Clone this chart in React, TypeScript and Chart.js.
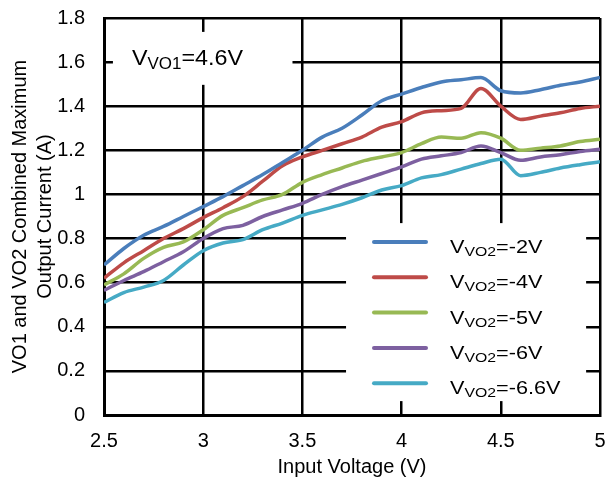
import React, { useEffect, useRef } from "react";
import { Chart, registerables } from "chart.js";

Chart.register(...registerables);

const xValues = [2.5, 2.6, 2.7, 2.8, 2.9, 3.0, 3.1, 3.2, 3.3, 3.4, 3.5, 3.6, 3.7, 3.8, 3.9, 4.0, 4.1, 4.2, 4.3, 4.4, 4.5, 4.6, 4.7, 4.8, 4.9, 5.0];

const vo2m2 = [0.68, 0.755, 0.815, 0.855, 0.9, 0.945, 0.99, 1.04, 1.09, 1.145, 1.2, 1.26, 1.3, 1.36, 1.425, 1.455, 1.485, 1.51, 1.52, 1.53, 1.47, 1.46, 1.475, 1.495, 1.51, 1.53];
const vo2m4 = [0.62, 0.69, 0.745, 0.8, 0.845, 0.895, 0.94, 0.99, 1.06, 1.13, 1.17, 1.2, 1.23, 1.26, 1.305, 1.33, 1.37, 1.38, 1.39, 1.48, 1.4, 1.34, 1.355, 1.37, 1.39, 1.4];
const vo2m5 = [0.59, 0.64, 0.71, 0.76, 0.785, 0.84, 0.905, 0.94, 0.975, 1.0, 1.055, 1.09, 1.12, 1.15, 1.17, 1.19, 1.23, 1.26, 1.255, 1.28, 1.255, 1.2, 1.21, 1.22, 1.24, 1.25];
const vo2m6 = [0.565, 0.61, 0.65, 0.695, 0.74, 0.8, 0.845, 0.86, 0.9, 0.93, 0.96, 1.0, 1.035, 1.065, 1.095, 1.125, 1.16, 1.175, 1.19, 1.22, 1.19, 1.155, 1.17, 1.18, 1.195, 1.205];
const vo2m66 = [0.51, 0.555, 0.58, 0.61, 0.68, 0.745, 0.78, 0.795, 0.84, 0.87, 0.905, 0.93, 0.955, 0.985, 1.02, 1.04, 1.075, 1.09, 1.115, 1.14, 1.16, 1.085, 1.1, 1.12, 1.135, 1.148];

const legendLabels = ["=-2V", "=-4V", "=-5V", "=-6V", "=-6.6V"];
const colors = ["#4A7EBB", "#BE4B48", "#98B954", "#7D60A0", "#46AAC5"];
const seriesList = [vo2m2, vo2m4, vo2m5, vo2m6, vo2m66];

const FONT = "'Liberation Sans', Arial, sans-serif";

function drawSub(ctx: CanvasRenderingContext2D, x: number, y: number, main: string, sub: string, rest: string, size: number, subSize: number, subDrop: number, stretch: number) {
  ctx.save();
  ctx.translate(x, y);
  ctx.scale(stretch, 1);
  ctx.fillStyle = "#000";
  ctx.textAlign = "left";
  ctx.textBaseline = "alphabetic";
  ctx.font = `${size}px ${FONT}`;
  ctx.fillText(main, 0, 0);
  let cx = ctx.measureText(main).width;
  ctx.font = `${subSize}px ${FONT}`;
  ctx.fillText(sub, cx, subDrop);
  cx += ctx.measureText(sub).width;
  ctx.font = `${size}px ${FONT}`;
  ctx.fillText(rest, cx, 0);
  ctx.restore();
}

const overlayPlugin = {
  id: "overlayPlugin",
  beforeDatasetsDraw(chart: any) {
    const { ctx, scales } = chart;
    const xs = scales.x;
    const ys = scales.y;
    ctx.save();
    ctx.fillStyle = "#fff";
    const ax1 = xs.getPixelForValue(2.545), ax2 = xs.getPixelForValue(3.45);
    const ay1 = ys.getPixelForValue(1.737), ay2 = ys.getPixelForValue(1.497);
    ctx.fillRect(ax1, ay1, ax2 - ax1, ay2 - ay1);
    const lx1 = xs.getPixelForValue(3.72), lx2 = xs.getPixelForValue(4.93);
    const ly1 = ys.getPixelForValue(0.87), ly2 = ys.getPixelForValue(0.063);
    ctx.fillRect(lx1, ly1, lx2 - lx1, ly2 - ly1);
    ctx.restore();
  },
  afterDatasetsDraw(chart: any) {
    const { ctx, chartArea } = chart;
    ctx.save();
    drawSub(ctx, chartArea.left + 28, chartArea.top + 47, "V", "VO1", "=4.6V", 22, 16, 4, 1.06);
    const lineX1 = chartArea.left + 270;
    const lineX2 = chartArea.left + 322;
    for (let i = 0; i < legendLabels.length; i++) {
      const y = chartArea.top + 224 + i * 35.3;
      ctx.strokeStyle = colors[i];
      ctx.lineWidth = 4;
      ctx.lineCap = "round";
      ctx.beginPath();
      ctx.moveTo(lineX1, y);
      ctx.lineTo(lineX2, y);
      ctx.stroke();
      drawSub(ctx, chartArea.left + 346, y + 11, "V", "VO2", legendLabels[i], 18.5, 13.5, 3, 1.17);
    }
    ctx.restore();
  },
};

export default function App() {
  const ref = useRef<HTMLCanvasElement | null>(null);
  useEffect(() => {
    if (!ref.current) return;
    const chart = new Chart(ref.current, {
      type: "line",
      data: {
        datasets: seriesList.map((s, i) => ({
          label: "VVO2" + legendLabels[i],
          data: s.map((v, j) => ({ x: xValues[j], y: v })),
          borderColor: colors[i],
          backgroundColor: colors[i],
          borderWidth: 3.5,
          pointRadius: 0,
          cubicInterpolationMode: "monotone" as const,
          fill: false,
        })),
      },
      options: {
        animation: false,
        responsive: false,
        maintainAspectRatio: false,
        layout: { padding: { left: 0, right: 5, top: 18, bottom: 0 } },
        plugins: { legend: { display: false }, tooltip: { enabled: false } },
        scales: {
          x: {
            type: "linear",
            min: 2.5,
            max: 5,
            afterFit: (s: any) => { s.height = 64; s.paddingLeft = 0; s.paddingRight = 0; },
            ticks: {
              stepSize: 0.5,
              padding: 14,
              color: "#000",
              font: { family: FONT, size: 20 },
              callback: (v: any) => String(Number(Number(v).toFixed(1))),
            },
            grid: { color: "#000", lineWidth: 2.5, drawTicks: false },
            border: { display: true, color: "#000", width: 3 },
            title: {
              display: true,
              text: "Input Voltage (V)",
              color: "#000",
              font: { family: FONT, size: 20, lineHeight: 1.2 },
              padding: { top: 0, bottom: 0 },
            },
          },
          y: {
            type: "linear",
            min: 0,
            max: 1.8,
            afterFit: (s: any) => { s.width = 104; s.paddingTop = 0; s.paddingBottom = 0; },
            ticks: {
              stepSize: 0.2,
              padding: 19,
              color: "#000",
              font: { family: FONT, size: 20 },
              callback: (v: any) => String(Number(Number(v).toFixed(1))),
            },
            grid: { color: "#000", lineWidth: 2.5, drawTicks: false },
            border: { display: true, color: "#000", width: 3 },
            title: {
              display: true,
              text: ["VO1 and VO2 Combined Maximum", "Output Current (A)"],
              color: "#000",
              font: { family: FONT, size: 20, lineHeight: 1.25 },
              padding: { top: 7.5, bottom: 0 },
            },
          },
        },
      },
      plugins: [overlayPlugin],
    });
    return () => chart.destroy();
  }, []);
  return (
    <div style={{ position: "absolute", left: 0, top: 0, width: 605, height: 479, background: "#fff" }}>
      <canvas ref={ref} width={605} height={479} style={{ display: "block" }} />
    </div>
  );
}
